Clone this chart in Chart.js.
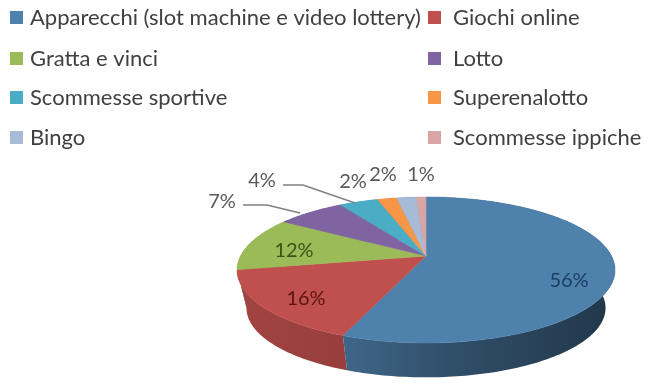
<!DOCTYPE html>
<html>
<head>
<meta charset="utf-8">
<title>Gioco</title>
<style>
  html, body { margin: 0; padding: 0; background: #fff; }
  canvas { display: block; }
</style>
<script src="https://cdn.jsdelivr.net/npm/chart.js@4"></script>
</head>
<body>
<canvas id="myChart" width="645" height="383"></canvas>
<script>
const categories = [
  'Apparecchi (slot machine e video lottery)',
  'Giochi online',
  'Gratta e vinci',
  'Lotto',
  'Scommesse sportive',
  'Superenalotto',
  'Bingo',
  'Scommesse ippiche'
];
const shares = [56, 16, 12, 7, 4, 2, 2, 1];
const sliceColors = ['#4f81ad', '#c0504d', '#9bbb59', '#8064a2', '#4bacc6', '#f79646', '#a7bad6', '#d9a5a5'];
const labelColors = ['#1c3d5e', '#5c1412', '#3c5216', '#595959', '#595959', '#595959', '#595959', '#595959'];

// where each percent label sits, and the two leader lines
const labelPos = [[569, 281], [306, 299], [294, 251], [222, 202], [262, 181], [353, 182], [383, 175], [421, 175]];
const leaders = [
  [[243, 205], [267, 205], [300, 213]],
  [[283, 185], [303, 185], [355, 203]]
];

// legend layout: two columns, four rows
const legendX = [10, 428];
const legendY = [18, 59, 98, 138];

// tilted disc: outline ellipse, and how far the slice apex sits above its middle
const cx = 426, cy = 270, rimX = 189, rimY = 73, apexLift = 14;
const depth = 38, bottomScale = 0.95;
const persp = -apexLift * 2 / (2 * rimY);
const flatX = rimX * Math.sqrt(1 - persp * persp);

// chart.js gives angles with 0 at 3 o'clock, the circle goes through a homography to the screen
function project(angle) {
  const x = Math.cos(angle), y = Math.sin(angle);
  const w = 1 + persp * y;
  return [flatX * x / w, (-apexLift + rimY * y) / w];
}

function rimPoints(start, end) {
  const pts = [];
  const steps = Math.max(2, Math.ceil((end - start) / 0.02));
  for (let i = 0; i <= steps; i++) {
    pts.push(project(start + (end - start) * i / steps));
  }
  return pts;
}

function shade(hex, f) {
  const n = parseInt(hex.slice(1), 16);
  const r = Math.round((n >> 16 & 255) * f);
  const g = Math.round((n >> 8 & 255) * f);
  const b = Math.round((n & 255) * f);
  return 'rgb(' + r + ',' + g + ',' + b + ')';
}

const disc3d = {
  id: 'disc3d',
  // the arcs are redrawn here as a tilted disc, so the flat ones are skipped
  beforeDatasetsDraw(chart) {
    const ctx = chart.ctx;
    const arcs = chart.getDatasetMeta(0).data;

    // side walls first, last slice at the back so the red wall ends up on top
    for (let i = arcs.length - 1; i >= 0; i--) {
      const arc = arcs[i];
      const pts = rimPoints(arc.startAngle, arc.endAngle);
      const grad = ctx.createLinearGradient(cx - rimX, 0, cx + rimX, 0);
      grad.addColorStop(0, shade(sliceColors[i], 0.85));
      grad.addColorStop(0.3, shade(sliceColors[i], 0.78));
      grad.addColorStop(0.55, shade(sliceColors[i], 0.62));
      grad.addColorStop(1, shade(sliceColors[i], 0.42));
      ctx.beginPath();
      pts.forEach(function (p, k) {
        if (k === 0) ctx.moveTo(cx + p[0], cy + p[1]);
        else ctx.lineTo(cx + p[0], cy + p[1]);
      });
      pts.slice().reverse().forEach(function (p) {
        ctx.lineTo(cx + p[0] * bottomScale, cy + p[1] * bottomScale + depth);
      });
      ctx.closePath();
      ctx.fillStyle = grad;
      ctx.fill();
    }

    arcs.forEach(function (arc, i) {
      const pts = rimPoints(arc.startAngle, arc.endAngle);
      ctx.beginPath();
      ctx.moveTo(cx, cy - apexLift);
      pts.forEach(function (p) { ctx.lineTo(cx + p[0], cy + p[1]); });
      ctx.closePath();
      ctx.fillStyle = sliceColors[i];
      ctx.fill();
      ctx.lineWidth = 0.5;
      ctx.strokeStyle = sliceColors[i];
      ctx.stroke();
    });

    ctx.strokeStyle = '#808080';
    ctx.lineWidth = 1.5;
    leaders.forEach(function (line) {
      ctx.beginPath();
      line.forEach(function (p, k) {
        if (k === 0) ctx.moveTo(p[0], p[1]);
        else ctx.lineTo(p[0], p[1]);
      });
      ctx.stroke();
    });

    ctx.font = '20px Lato';
    ctx.textAlign = 'center';
    ctx.textBaseline = 'middle';
    shares.forEach(function (v, i) {
      ctx.fillStyle = labelColors[i];
      ctx.fillText(v + '%', labelPos[i][0], labelPos[i][1]);
    });

    // legend, filled column by column per row
    ctx.font = '22px Lato';
    ctx.textAlign = 'left';
    categories.forEach(function (name, i) {
      const x = legendX[i % 2], y = legendY[Math.floor(i / 2)];
      ctx.fillStyle = sliceColors[i];
      ctx.fillRect(x, y - 7, 13, 13);
      ctx.fillStyle = '#404040';
      ctx.fillText(name, x + (i % 2 ? 25 : 20), y);
    });
    return false;
  }
};

new Chart(document.getElementById('myChart'), {
  type: 'pie',
  data: {
    labels: categories,
    datasets: [{ data: shares, backgroundColor: sliceColors, borderWidth: 0 }]
  },
  options: {
    responsive: false,
    animation: false,
    plugins: { legend: { display: false }, tooltip: { enabled: false } }
  },
  plugins: [disc3d]
});
</script>
</body>
</html>
